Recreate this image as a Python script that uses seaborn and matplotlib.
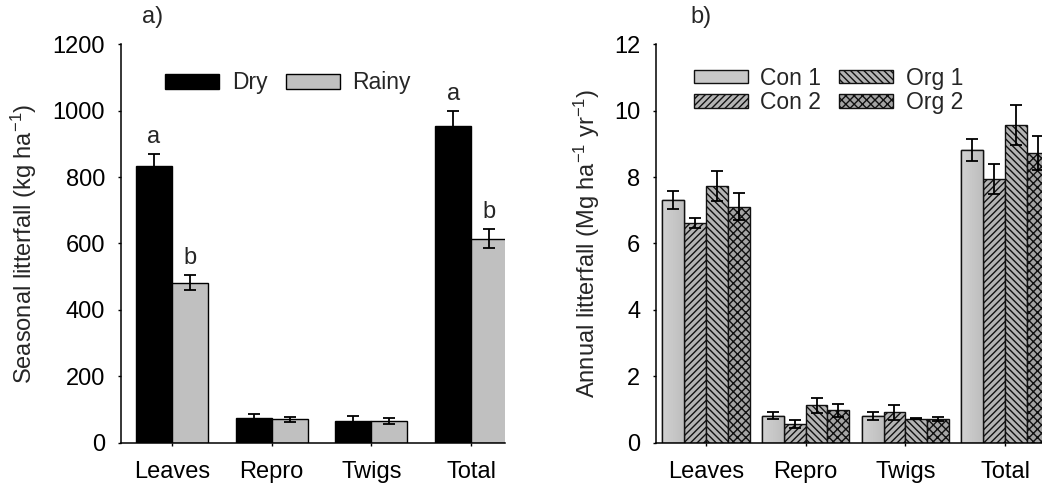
import numpy as np
import pandas as pd
import matplotlib
matplotlib.use("Agg")
import matplotlib.pyplot as plt
import matplotlib.patches as mpatches
from matplotlib.colors import LinearSegmentedColormap
import seaborn as sns

# ---------------- data ----------------
parts = ["Leaves", "Repro", "Twigs", "Total"]

seasons = ["Dry", "Rainy"]
dry_mean = [834, 75, 66, 955]
dry_se = [35, 12, 14, 45]
rainy_mean = [482, 70, 64, 615]
rainy_se = [22, 8, 9, 28]
dry_letters = ["a", "", "", "a"]
rainy_letters = ["b", "", "", "b"]

treatments = ["Con 1", "Con 2", "Org 1", "Org 2"]
con1_mean = [7.31, 0.81, 0.80, 8.82]
con1_se = [0.28, 0.11, 0.13, 0.33]
con2_mean = [6.61, 0.56, 0.91, 7.94]
con2_se = [0.15, 0.12, 0.24, 0.44]
org1_mean = [7.74, 1.13, 0.72, 9.57]
org1_se = [0.45, 0.23, 0.02, 0.59]
org2_mean = [7.11, 0.98, 0.72, 8.73]
org2_se = [0.41, 0.20, 0.06, 0.52]

yticks_a = [0, 200, 400, 600, 800, 1000, 1200]
yticks_b = [0, 2, 4, 6, 8, 10, 12]

# ---------------- style ----------------
sns.set_theme(style="ticks")
plt.rcParams["font.family"] = ["Liberation Sans", "DejaVu Sans"]
plt.rcParams["mathtext.fontset"] = "custom"
plt.rcParams["mathtext.rm"] = "Liberation Sans"
plt.rcParams["mathtext.it"] = "Liberation Sans"
plt.rcParams["mathtext.default"] = "regular"
plt.rcParams["hatch.linewidth"] = 1.0

FS = 17
LFS = 16.5
W, H = 1042, 486
fig = plt.figure(figsize=(W / 100, H / 100), dpi=100)
ax_bottom = 1 - 442.7 / H
ax_h = 398.4 / H
axA = fig.add_axes([121 / W, ax_bottom, 384 / W, ax_h])
axB = fig.add_axes([656 / W, ax_bottom, 386 / W, ax_h])


def style_axis(ax):
    for s in ["top", "right"]:
        ax.spines[s].set_visible(False)
    for s in ["left", "bottom"]:
        ax.spines[s].set_linewidth(1.1)
        ax.spines[s].set_color("black")
    ax.tick_params(axis="both", direction="out", length=2.4, width=1,
                   colors="black", labelsize=FS)
    ax.tick_params(axis="y", pad=9)
    ax.tick_params(axis="x", pad=11)
    ax.set_xlabel("")


# ---------------- panel a ----------------
dfA = pd.DataFrame({
    "part": parts * 2,
    "season": [seasons[0]] * 4 + [seasons[1]] * 4,
    "value": dry_mean + rainy_mean,
})
colA = {"Dry": "black", "Rainy": "#c0c0c0"}
sns.barplot(data=dfA, x="part", y="value", hue="season", order=parts,
            hue_order=seasons, palette=colA, width=0.72, errorbar=None,
            edgecolor="black", linewidth=1.0, saturation=1, ax=axA,
            legend=False)
for cont, m, e, letters in zip(axA.containers, [dry_mean, rainy_mean],
                               [dry_se, rainy_se], [dry_letters, rainy_letters]):
    xs = [b.get_x() + b.get_width() / 2 for b in cont]
    axA.errorbar(xs, m, yerr=e, fmt="none", ecolor="black", elinewidth=1.3,
                 capsize=4.2, capthick=1.3, zorder=5)
    for x, mv, ev, lt in zip(xs, m, e, letters):
        if lt:
            axA.text(x, mv + ev + 33, lt, ha="center", va="baseline", fontsize=FS)

axA.set_ylim(0, 1200)
axA.set_yticks(yticks_a)
axA.set_xlim(-0.51, 3.34)
style_axis(axA)
axA.set_ylabel("Seasonal litterfall (kg ha$^{-1}$)", fontsize=FS)
axA.yaxis.set_label_coords(-0.2135, 0.5)
hA = [mpatches.Patch(facecolor=colA[s], edgecolor="black", linewidth=1.0) for s in seasons]
axA.legend(hA, seasons, loc="center left", bbox_to_anchor=(0.115, 0.903),
           ncol=2, frameon=False, fontsize=LFS, handlelength=2.36,
           handleheight=0.65, handletextpad=0.55, columnspacing=0.8,
           borderpad=0, borderaxespad=0)

# ---------------- panel b ----------------
means_b = [con1_mean, con2_mean, org1_mean, org2_mean]
ses_b = [con1_se, con2_se, org1_se, org2_se]
dfB = pd.DataFrame({
    "part": parts * 4,
    "treat": sum([[t] * 4 for t in treatments], []),
    "value": sum(means_b, []),
})
stylesB = {
    "Con 1": dict(face="#c8c8c8", hatch=None),
    "Con 2": dict(face="#b4b4b4", hatch="/////"),
    "Org 1": dict(face="#b4b4b4", hatch="\\\\\\\\\\"),
    "Org 2": dict(face="#a4a4a4", hatch="xxxx"),
}
sns.barplot(data=dfB, x="part", y="value", hue="treat", order=parts,
            hue_order=treatments,
            palette={t: stylesB[t]["face"] for t in treatments},
            width=0.875, errorbar=None, edgecolor="#111111", linewidth=1.0,
            saturation=1, ax=axB, legend=False)
for cont, t in zip(axB.containers, treatments):
    for b in cont:
        b.set_facecolor(stylesB[t]["face"])
        if stylesB[t]["hatch"]:
            b.set_hatch(stylesB[t]["hatch"])
        b.set_edgecolor("#111111")

# subtle gradient on Con 1 bars
gcmap = LinearSegmentedColormap.from_list("g", ["#d2d2d2", "#bdbdbd"])
grad = np.linspace(0.0, 1.0, 64).reshape(1, -1)
for b in axB.containers[0]:
    x0, w, h = b.get_x(), b.get_width(), b.get_height()
    im = axB.imshow(grad, extent=[x0, x0 + w, 0, h], aspect="auto",
                    cmap=gcmap, vmin=0, vmax=1, origin="lower",
                    zorder=b.get_zorder() + 0.01)
    im.set_clip_path(b)
    axB.add_patch(mpatches.Rectangle((x0, 0), w, h, fill=False,
                                     edgecolor="#111111", linewidth=1.0,
                                     zorder=b.get_zorder() + 0.02))

for cont, m, e in zip(axB.containers, means_b, ses_b):
    xs = [b.get_x() + b.get_width() / 2 for b in cont]
    axB.errorbar(xs, m, yerr=e, fmt="none", ecolor="black", elinewidth=1.3,
                 capsize=4.2, capthick=1.3, zorder=5)

axB.set_ylim(0, 12)
axB.set_yticks(yticks_b)
axB.set_xlim(-0.50, 3.37)
style_axis(axB)
axB.set_ylabel("Annual litterfall (Mg ha$^{-1}$ yr$^{-1}$)", fontsize=FS)
axB.yaxis.set_label_coords(-0.140, 0.5)
hB = [mpatches.Patch(facecolor=stylesB[t]["face"], edgecolor="#111111",
                     hatch=stylesB[t]["hatch"], linewidth=1.0) for t in treatments]
axB.legend(hB, treatments, loc="center left", bbox_to_anchor=(0.098, 0.8845),
           ncol=2, frameon=False, fontsize=LFS, handlelength=2.36,
           handleheight=0.53, handletextpad=0.54, columnspacing=0.79,
           labelspacing=0.05, borderpad=0, borderaxespad=0)

# panel labels
fig.text(141.7 / W, 1 - 17 / H, "a)", ha="left", va="center", fontsize=FS)
fig.text(690 / W, 1 - 17 / H, "b)", ha="left", va="center", fontsize=FS)

fig.savefig("out.png", dpi=100)
